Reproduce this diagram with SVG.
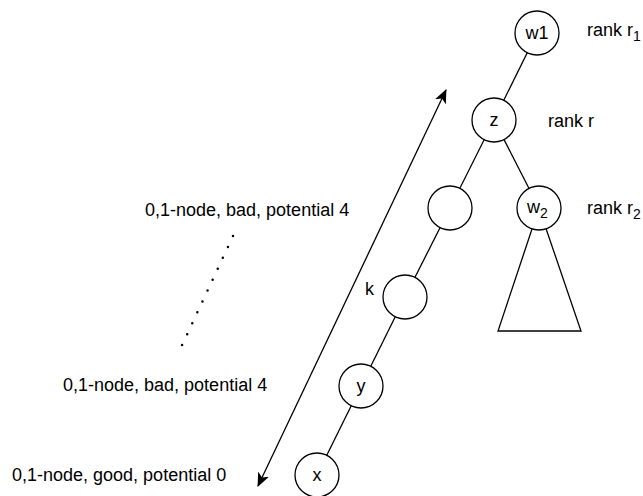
<svg xmlns="http://www.w3.org/2000/svg" width="643" height="496" viewBox="0 0 643 496">
<style>
  .n { fill: #fff; stroke: #000; stroke-width: 1.3; }
  .e { stroke: #000; stroke-width: 1.3; fill: none; }
  .t { font-family: "Liberation Sans", Arial, sans-serif; font-size: 18px; fill: #000; }
  .c { text-anchor: middle; }
  .s { font-size: 14px; }
</style>
<defs>
  <marker id="ah" viewBox="0 0 14 12" refX="13" refY="6" markerWidth="14" markerHeight="12" markerUnits="userSpaceOnUse" orient="auto-start-reverse">
    <path d="M0,0 L14,6 L0,12 L3.5,6 Z" fill="#000"/>
  </marker>
</defs>
<rect width="643" height="496" fill="#fff"/>
<g id="connectors">
  <line class="e" x1="537" y1="33" x2="494" y2="120"/>
  <line class="e" x1="494" y1="120" x2="450" y2="208"/>
  <line class="e" x1="494" y1="120" x2="539" y2="208"/>
  <line class="e" x1="450" y1="208" x2="405" y2="297"/>
  <line class="e" x1="405" y1="297" x2="361" y2="386"/>
  <line class="e" x1="361" y1="386" x2="317" y2="475"/>
  <line class="e" x1="446" y1="90" x2="258" y2="486" marker-start="url(#ah)" marker-end="url(#ah)"/>
</g>
<g id="subtree">
  <path class="e" d="M539,208 L498,331 L581,331 Z" fill="#fff"/>
</g>
<g id="w1"><circle class="n" cx="537" cy="33" r="22"/><text class="t c" x="537" y="39">w1</text></g>
<g id="z"><circle class="n" cx="494" cy="120" r="22"/><text class="t c" x="494" y="126">z</text></g>
<g id="mid"><circle class="n" cx="450" cy="208" r="22"/></g>
<g id="w2"><circle class="n" cx="539" cy="208" r="22"/><text class="t" x="527" y="213">w<tspan class="s" dy="5">2</tspan></text></g>
<g id="k"><circle class="n" cx="405" cy="297" r="22"/></g>
<g id="y"><circle class="n" cx="361" cy="386" r="22"/><text class="t c" x="361" y="392">y</text></g>
<g id="x"><circle class="n" cx="317" cy="475" r="22"/><text class="t c" x="317" y="481">x</text></g>
<g id="labels">
  <text class="t" x="587" y="36">rank r<tspan class="s" dy="5">1</tspan></text>
  <text class="t" x="548" y="127">rank r</text>
  <text class="t" x="587" y="214">rank r<tspan class="s" dy="5">2</tspan></text>
  <text class="t" x="365" y="295">k</text>
  <text class="t" x="145" y="216">0,1-node, bad, potential 4</text>
  <text class="t" x="63" y="391">0,1-node, bad, potential 4</text>
  <text class="t" x="12" y="481">0,1-node, good, potential 0</text>
</g>
<line x1="233" y1="236" x2="177" y2="356" stroke="#000" stroke-width="2.5" stroke-linecap="round" stroke-dasharray="0 12.04"/>
</svg>
